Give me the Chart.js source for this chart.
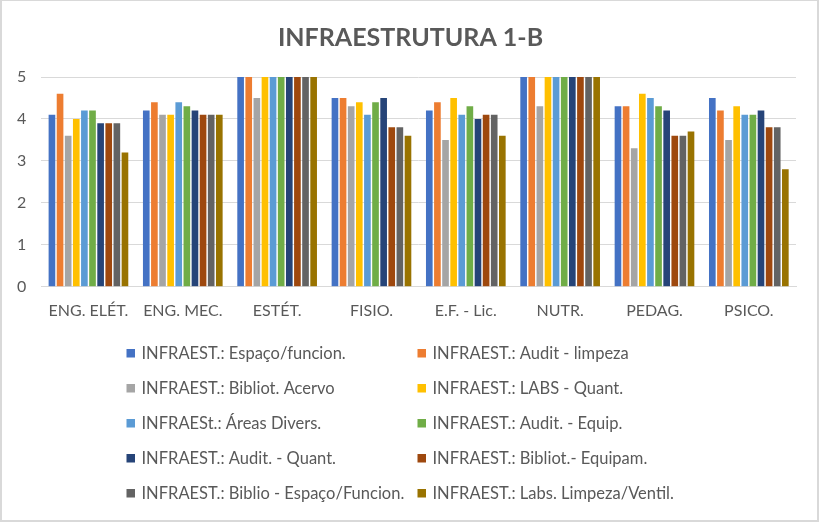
<!DOCTYPE html>
<html><head><meta charset="utf-8">
<script src="https://cdn.jsdelivr.net/npm/chart.js@4.4.1/dist/chart.umd.min.js"></script>
<style>
html,body{margin:0;padding:0;background:#fff;}
#wrap{width:819px;height:522px;box-sizing:border-box;border:2px solid #d9d9d9;border-top-width:1px;position:relative;}
canvas{display:block;}
</style></head>
<body>
<div id="wrap"><canvas id="c" width="815" height="519"></canvas></div>
<script>
const categories = ["ENG. ELÉT.", "ENG. MEC.", "ESTÉT.", "FISIO.", "E.F. - Lic.", "NUTR.", "PEDAG.", "PSICO."];
const seriesNames = [
  "INFRAEST.: Espaço/funcion.", "INFRAEST.: Audit - limpeza",
  "INFRAEST.: Bibliot. Acervo", "INFRAEST.: LABS - Quant.",
  "INFRAESt.: Áreas Divers.", "INFRAEST.: Audit. - Equip.",
  "INFRAEST.: Audit. - Quant.", "INFRAEST.: Bibliot.- Equipam.",
  "INFRAEST.: Biblio - Espaço/Funcion.", "INFRAEST.: Labs. Limpeza/Ventil."
];
const espacoFuncion   = [4.1, 4.2, 5, 4.5, 4.2, 5, 4.3, 4.5];
const auditLimpeza    = [4.6, 4.4, 5, 4.5, 4.4, 5, 4.3, 4.2];
const bibliotAcervo   = [3.6, 4.1, 4.5, 4.3, 3.5, 4.3, 3.3, 3.5];
const labsQuant       = [4.0, 4.1, 5, 4.4, 4.5, 5, 4.6, 4.3];
const areasDivers     = [4.2, 4.4, 5, 4.1, 4.1, 5, 4.5, 4.1];
const auditEquip      = [4.2, 4.3, 5, 4.4, 4.3, 5, 4.3, 4.1];
const auditQuant      = [3.9, 4.2, 5, 4.5, 4.0, 5, 4.2, 4.2];
const bibliotEquipam  = [3.9, 4.1, 5, 3.8, 4.1, 5, 3.6, 3.8];
const biblioEspaco    = [3.9, 4.1, 5, 3.8, 4.1, 5, 3.6, 3.8];
const labsLimpeza     = [3.2, 4.1, 5, 3.6, 3.6, 5, 3.7, 2.8];
const yTicks = [0, 1, 2, 3, 4, 5];
const chartTitle = "INFRAESTRUTURA 1-B";

const seriesValues = [espacoFuncion, auditLimpeza, bibliotAcervo, labsQuant, areasDivers,
  auditEquip, auditQuant, bibliotEquipam, biblioEspaco, labsLimpeza];
const colors = ["#4472C4", "#ED7D31", "#A5A5A5", "#FFC000", "#5B9BD5",
  "#70AD47", "#264478", "#9E480E", "#636363", "#997300"];

const FONT = "Lato, 'Open Sans', sans-serif";
const TXT = "#595959";

const decorPlugin = {
  id: 'decor',
  afterDraw(chart) {
    const ctx = chart.ctx;
    ctx.save();
    ctx.font = "bold 25px " + FONT;
    ctx.textAlign = "center";
    ctx.textBaseline = "middle";
    ctx.fillStyle = TXT;
    ctx.fillText(chartTitle, chart.width / 2 + 1, 37);
    ctx.font = "16.5px " + FONT;
    ctx.textAlign = "left";
    chart.data.datasets.forEach((ds, i) => {
      const col = i % 2, row = Math.floor(i / 2);
      const x = col === 0 ? 124.5 : 415.5;
      const y = 352 + row * 35;
      ctx.fillStyle = ds.backgroundColor;
      ctx.fillRect(x, y - 4, 8.5, 8.5);
      ctx.fillStyle = TXT;
      ctx.fillText(ds.label, x + 15, y + 0.5);
    });
    ctx.restore();
  }
};

new Chart(document.getElementById('c'), {
  type: 'bar',
  data: {
    labels: categories,
    datasets: seriesNames.map((n, i) => ({
      label: n, data: seriesValues[i], backgroundColor: colors[i],
      categoryPercentage: 0.86, barPercentage: 0.82
    }))
  },
  options: {
    responsive: false,
    animation: false,
    layout: { padding: { left: 0, right: 21, top: 76, bottom: 186 } },
    plugins: {
      legend: { display: false },
      tooltip: { enabled: false },
      title: { display: false }
    },
    scales: {
      x: {
        grid: { display: false, drawTicks: false },
        border: { display: true, color: "#d9d9d9" },
        ticks: { color: TXT, font: { family: FONT, size: 16 }, padding: 14, maxRotation: 0 }
      },
      y: {
        min: 0, max: 5,
        afterBuildTicks(axis) { axis.ticks = yTicks.map(v => ({ value: v })); },
        grid: { color: "#d9d9d9", drawTicks: false },
        border: { display: false },
        ticks: { color: TXT, font: { family: FONT, size: 16 }, padding: 15 }
      }
    }
  },
  plugins: [decorPlugin]
});
</script>
</body></html>
